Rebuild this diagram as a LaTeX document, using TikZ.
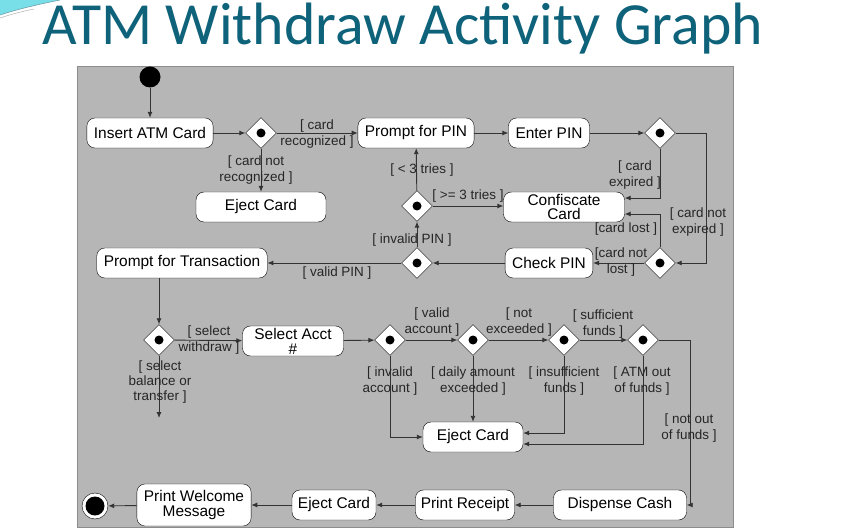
\documentclass[tikz,border=0pt]{standalone}
\usepackage{fontspec}
\setmainfont{Liberation Sans}
\newfontfamily\titlefont{Carlito}
\usetikzlibrary{arrows.meta,shapes.geometric}
\definecolor{titleteal}{RGB}{14,98,122}
\definecolor{panelgray}{RGB}{182,182,182}
\definecolor{swoosh}{RGB}{120,222,232}
\begin{document}
\begin{tikzpicture}[x=1bp,y=-1bp,
    act/.style={draw=black, fill=white, rounded corners=8bp, align=center,
      font=\fontsize{15.5}{15}\selectfont, inner xsep=7bp, inner ysep=0bp, minimum height=30bp},
    dec/.style={diamond, draw=black, fill=white, minimum size=31bp, inner sep=0bp,
      path picture={\fill[black] (path picture bounding box.center) circle (4.5bp);}},
    lbl/.style={font=\fontsize{13.5}{15.5}\selectfont, align=center, inner sep=0bp, text=black!85},
    flow/.style={draw=black!80, line width=0.9bp, -{Latex[length=6bp,width=5bp]}}]
  \useasboundingbox (0,0) rectangle (855,531);
  % slide
  \fill[white] (0,0) rectangle (855,531);
  \fill[swoosh] (0,0) -- (60,0) .. controls (40,4) and (18,9) .. (0,15) -- cycle;
  \draw[titleteal!60, line width=0.6bp] (0,15) .. controls (18,9) and (40,4) .. (60,0);
  \draw[black!30, line width=0.5bp] (0,18) .. controls (12,14) and (24,11) .. (34,9);
  \node[font=\titlefont\fontsize{60}{60}\selectfont, text=titleteal, anchor=base west, inner sep=0bp]
    (title) at (42,45) {ATM Withdraw Activity Graph};
  \filldraw[fill=panelgray, draw=black!45, line width=0.6bp] (77,66) rectangle (733,527);

  % activities and decisions
  \node[circle, fill=black, minimum size=21bp, inner sep=0bp] (start) at (150,77) {};
  \node[act] (insert) at (150,133) {Insert ATM Card};
  \node[dec] (d1) at (261,133) {};
  \node[act] (promptpin) at (416,133) {Prompt for PIN};
  \node[act] (enterpin) at (549,133) {Enter PIN};
  \node[dec] (d2) at (660,133) {};
  \node[act, minimum width=130bp] (eject1) at (261,207) {Eject Card};
  \node[dec] (d3) at (417,206) {};
  \node[act, minimum width=121bp] (confiscate) at (564,207) {Confiscate\\Card};
  \node[act] (checkpin) at (549,263) {Check PIN};
  \node[dec] (d4) at (660,263) {};
  \node[dec] (d5) at (417,263) {};
  \node[act] (prompttrans) at (182,263) {Prompt for Transaction};
  \node[dec] (d6) at (159,340) {};
  \node[act, minimum width=101bp] (selacct) at (293,341) {Select Acct\\\#};
  \node[dec] (d7) at (390,340) {};
  \node[dec] (d8) at (473,340) {};
  \node[dec] (d9) at (564,340) {};
  \node[dec] (d10) at (643,340) {};
  \node[act, minimum width=100bp] (eject2) at (473,437) {Eject Card};
  \node[circle, draw=black, fill=white, minimum size=26bp, inner sep=0bp,
    path picture={\fill[black] (path picture bounding box.center) circle (9.5bp);}] (finish) at (95,506) {};
  \node[act, minimum height=42bp] (welcome) at (194,505) {Print Welcome\\Message};
  \node[act, minimum width=84bp, inner xsep=4bp] (eject3) at (334,505) {Eject Card};
  \node[act, minimum width=99bp, inner xsep=4bp] (receipt) at (465,505) {Print Receipt};
  \node[act, minimum width=133bp, inner xsep=4bp] (dispense) at (620,505) {Dispense Cash};
  \coordinate (rightA) at (706,200);
  \coordinate (rightB) at (690,420);
  \coordinate (balance) at (159,418);

  % connectors
  \draw[flow] (start) -- (insert);
  \draw[flow] (insert) -- (d1);
  \draw[flow] (d1) -- (promptpin);
  \draw[flow] (d1) -- (eject1);
  \draw[flow] (promptpin) -- (enterpin);
  \draw[flow] (enterpin) -- (d2);
  \draw[flow] (d2.south) |- ([yshift=9bp]confiscate.east);
  \draw[flow] (d2.east) -- (d2.east -| rightA) |- (d4.east);
  \draw[flow] (d4.north) |- ([yshift=-7bp]confiscate.east);
  \draw[flow] (d4) -- (checkpin);
  \draw[flow] (checkpin) -- (d5);
  \draw[flow] (d5) -- (prompttrans);
  \draw[flow] (d5) -- (d3);
  \draw[flow] (d3) -- (promptpin);
  \draw[flow] (d3) -- (d3 -| confiscate.west);
  \draw[flow] (prompttrans.south -| d6) -- (d6);
  \draw[flow] (d6) -- (selacct);
  \draw[flow] (d6) -- (balance);
  \draw[flow] (selacct) -- (d7);
  \draw[flow] (d7) -- (d8);
  \draw[flow] (d8) -- (d9);
  \draw[flow] (d9) -- (d10);
  \draw[flow] (d7.south) |- (eject2.west);
  \draw[flow] (d8) -- (eject2);
  \draw[flow] (d9.south) |- ([yshift=4bp]eject2.east);
  \draw[flow] (d10.south) |- ([yshift=-7bp]eject2.east);
  \draw[flow] (d10.east) -- (d10.east -| rightB) |- (dispense.east);
  \draw[flow] (dispense) -- (receipt);
  \draw[flow] (receipt) -- (eject3);
  \draw[flow] (eject3) -- (welcome);
  \draw[flow] (welcome) -- (finish);

  % guards
  \node[lbl] (gcardrec) at (317,134) {[ card\\recognized ]};
  \node[lbl] (gcardnotrec) at (256,170) {[ card not\\recognized ]};
  \node[lbl] (gless) at (422,170) {[ < 3 tries ]};
  \node[lbl] (gmore) at (468,196) {[ >= 3 tries ]};
  \node[lbl] (ginvpin) at (412,240) {[ invalid PIN ]};
  \node[lbl] (gvalpin) at (337,273) {[ valid PIN ]};
  \node[lbl] (gexp) at (635,175) {[ card\\expired ]};
  \node[lbl] (gnotexp) at (698,222) {[ card not\\expired ]};
  \node[lbl] (glost) at (626,229) {[card lost ]};
  \node[lbl] (gnotlost) at (621,262) {[card not\\lost ]};
  \node[lbl] (gwithdraw) at (209,340) {[ select\\withdraw ]};
  \node[lbl] (gbalance) at (160,382) {[ select\\balance or\\transfer ]};
  \node[lbl] (gvalacc) at (432,322) {[ valid\\account ]};
  \node[lbl] (gnotexc) at (519,322) {[ not\\exceeded ]};
  \node[lbl] (gsuff) at (603,324) {[ sufficient\\funds ]};
  \node[lbl] (ginvacc) at (390,381) {[ invalid\\account ]};
  \node[lbl] (gdaily) at (473,381) {[ daily amount\\exceeded ]};
  \node[lbl] (ginsuff) at (564,381) {[ insufficient\\funds ]};
  \node[lbl] (gatmout) at (642,381) {[ ATM out\\of funds ]};
  \node[lbl] (gnotout) at (689,428) {[ not out\\of funds ]};
\end{tikzpicture}
\end{document}
